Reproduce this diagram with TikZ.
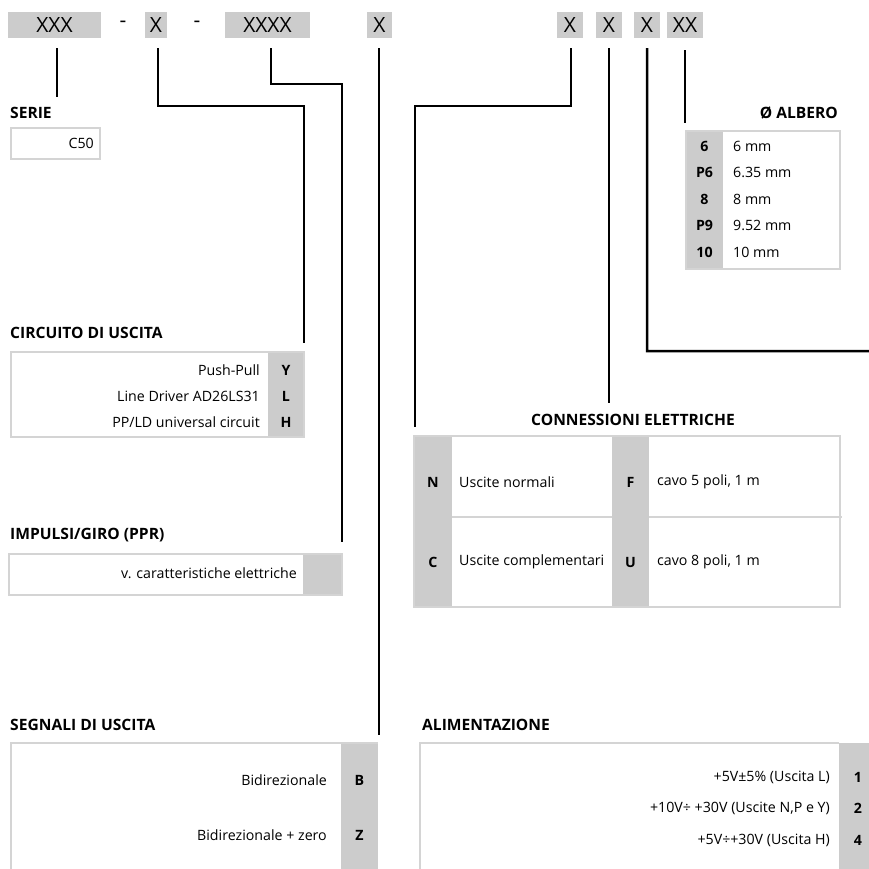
\documentclass[tikz,border=0pt]{standalone}
\usepackage{fontspec}
\setmainfont{Open Sans}
\definecolor{graycol}{RGB}{204,204,204}
\definecolor{bordercol}{RGB}{212,212,212}
\begin{document}
\begin{tikzpicture}[x=1pt,y=-1pt,
 hdr/.style={fill=graycol, minimum height=26pt, inner sep=0pt, font=\fontsize{21}{23}\selectfont},
 dsh/.style={inner sep=0pt, font=\fontsize{21}{23}\selectfont},
 conn/.style={line width=2.5pt},
 tbox/.style={draw=bordercol, line width=1.5pt},
 ttl/.style={font=\fontsize{15.6}{18}\selectfont\bfseries, inner sep=0pt},
 txt/.style={font=\fontsize{14.2}{16}\selectfont, inner sep=0pt},
 key/.style={font=\fontsize{14.2}{16}\selectfont\bfseries, inner sep=0pt},
]
\useasboundingbox (0,0) rectangle (869,868);
% header
\node[hdr, minimum width=93pt] (hA) at (54.5,25) {XXX};
\node[dsh] (d1) at (123,24) {-};
\node[hdr, minimum width=22pt] (hB) at (156,25) {X};
\node[dsh] (d2) at (197,24) {-};
\node[hdr, minimum width=85pt] (hC) at (267.5,25) {XXXX};
\node[hdr, minimum width=25pt] (hD) at (379.5,25) {X};
\node[hdr, minimum width=26pt] (hE) at (570,25) {X};
\node[hdr, minimum width=26pt] (hF) at (609,25) {X};
\node[hdr, minimum width=26pt] (hG) at (647,25) {X};
\node[hdr, minimum width=36pt] (hH) at (685,25) {XX};

% end coordinates
\coordinate (eA) at (57,97);
\coordinate (eB) at (304,343);
\coordinate (eC) at (342,542);
\coordinate (eD) at (379,735);
\coordinate (eE) at (415,427);
\coordinate (eF) at (609,403);
\coordinate (eG) at (869,351);
\coordinate (eH) at (685,123);

% connectors
\draw[conn] ([xshift=2.5pt,yshift=-10pt]hA.south) -- (eA);
\draw[conn] ([xshift=2pt,yshift=-10pt]hB.south) -- ++(0,58) -| (eB);
\draw[conn] ([xshift=3.5pt,yshift=-10pt]hC.south) -- ++(0,36) -| (eC);
\draw[conn] ([xshift=-0.5pt,yshift=-10pt]hD.south) -- (eD);
\draw[conn] ([xshift=1pt,yshift=-10pt]hE.south) -- ++(0,58) -| (eE);
\draw[conn] ([yshift=-10pt]hF.south) -- (eF);
\draw[conn] ([yshift=-10pt]hG.south) -- ++(0,303) -- (eG);
\draw[conn] ([yshift=-12pt]hH.south) -- (eH);

% SERIE
\node[ttl, anchor=west] (tSerie) at (10,113) {SERIE};
\draw[tbox, fill=white] (11,128) rectangle (100,159);
\node[txt, anchor=east] (vSerie) at (94,143.5) {C50};

% ALBERO
\node[ttl, anchor=east] (tAlb) at (838,113) {Ø ALBERO};
\fill[white] (686,131) rectangle (840,269);
\fill[graycol] (686,131) rectangle (723,269);
\draw[tbox] (686,131) rectangle (840,269);
\node[key] (k6) at (704.5,146) {6};
\node[key] (kP6) at (704.5,172.5) {P6};
\node[key] (k8) at (704.5,199) {8};
\node[key] (kP9) at (704.5,225.5) {P9};
\node[key] (k10) at (704.5,252) {10};
\node[txt, anchor=west] (v6) at (733,146) {6 mm};
\node[txt, anchor=west] (vP6) at (733,172.5) {6.35 mm};
\node[txt, anchor=west] (v8) at (733,199) {8 mm};
\node[txt, anchor=west] (vP9) at (733,225.5) {9.52 mm};
\node[txt, anchor=west] (v10) at (733,252) {10 mm};

% CIRCUITO
\node[ttl, anchor=west] (tCirc) at (10,333) {CIRCUITO DI USCITA};
\fill[white] (11,352) rectangle (304,437);
\fill[graycol] (268,352) rectangle (304,437);
\draw[tbox] (11,352) rectangle (304,437);
\node[txt, anchor=east] (cY) at (260,370) {Push-Pull};
\node[txt, anchor=east] (cL) at (260,396.5) {Line Driver AD26LS31};
\node[txt, anchor=east] (cH) at (260,422) {PP/LD universal circuit};
\node[key] (kY) at (286,370) {Y};
\node[key] (kL) at (286,396.5) {L};
\node[key] (kH) at (286,422) {H};

% IMPULSI
\node[ttl, anchor=west] (tImp) at (10,535) {IMPULSI/GIRO (PPR)};
\fill[white] (9,554) rectangle (342,595);
\fill[graycol] (303,554) rectangle (342,595);
\draw[tbox] (9,554) rectangle (342,595);
\node[txt, anchor=east] (vImp) at (297,573) {v. caratteristiche elettriche};

% CONNESSIONI
\node[ttl] (tCon) at (633,420) {CONNESSIONI ELETTRICHE};
\fill[white] (414,436) rectangle (840,607);
\fill[graycol] (414,436) rectangle (452,607);
\fill[graycol] (612,436) rectangle (649,607);
\draw[tbox] (414,436) rectangle (840,607);
\draw[tbox] (452,517) -- (612,517);
\draw[tbox] (649,517) -- (842,517);
\node[key] (kN) at (433,482) {N};
\node[key] (kC) at (433,562) {C};
\node[key] (kF) at (630.5,482) {F};
\node[key] (kU) at (630.5,562) {U};
\node[txt, anchor=west] (vN) at (459,482) {Uscite normali};
\node[txt, anchor=west] (vC) at (459,562) {Uscite complementari};
\node[txt, anchor=west] (vF) at (657,482) {cavo 5 poli, 1 m};
\node[txt, anchor=west] (vU) at (657,562) {cavo 8 poli, 1 m};

% SEGNALI
\node[ttl, anchor=west] (tSeg) at (10,725) {SEGNALI DI USCITA};
\fill[white] (11,743) rectangle (378,885);
\fill[graycol] (341,743) rectangle (378,885);
\draw[tbox] (11,885) -- (11,743) -- (378,743);
\node[txt, anchor=east] (vB) at (327,780) {Bidirezionale};
\node[txt, anchor=east] (vZ) at (327,835) {Bidirezionale + zero};
\node[key] (kB) at (359.5,780) {B};
\node[key] (kZ) at (359.5,835) {Z};

% ALIMENTAZIONE
\node[ttl, anchor=west] (tAli) at (422,725) {ALIMENTAZIONE};
\fill[white] (420,743) rectangle (885,885);
\fill[graycol] (839,743) rectangle (885,885);
\draw[tbox] (420,885) -- (420,743) -- (839,743);
\node[txt, anchor=east] (v1) at (830,777) {+5V±5\% (Uscita L)};
\node[txt, anchor=east] (v2) at (830,808.5) {+10V÷ +30V (Uscite N,P e Y)};
\node[txt, anchor=east] (v4) at (830,840) {+5V÷+30V (Uscita H)};
\node[key] (k1) at (858,777) {1};
\node[key] (k2) at (858,808.5) {2};
\node[key] (k4) at (858,840) {4};
\end{tikzpicture}
\end{document}
